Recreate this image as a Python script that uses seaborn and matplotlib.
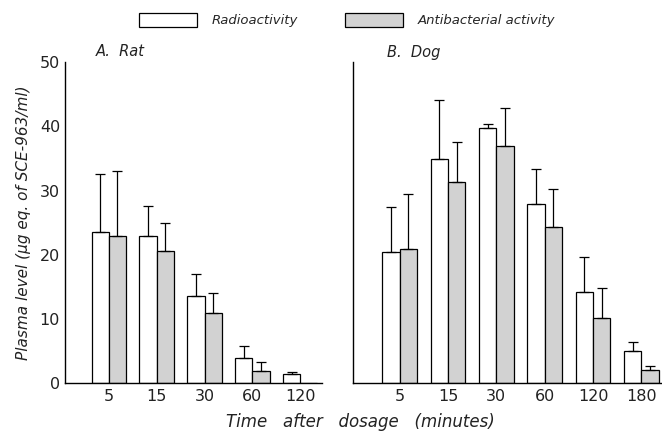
import numpy as np
import pandas as pd
import matplotlib
matplotlib.use("Agg")
import matplotlib.pyplot as plt
import seaborn as sns
from matplotlib.patches import Patch

sns.set_style("white")
plt.rcParams['font.family'] = ['DejaVu Sans']

series = ["Radioactivity", "Antibacterial activity"]

rat_times = ["5", "15", "30", "60", "120"]
rat_radio = [23.6, 23.0, 13.6, 3.9, 1.4]
rat_radio_err = [9.0, 4.6, 3.4, 1.9, 0.4]
rat_anti = [23.0, 20.6, 11.0, 1.9, 0.0]
rat_anti_err = [10.1, 4.4, 3.1, 1.4, np.nan]

dog_times = ["5", "15", "30", "60", "120", "180"]
dog_radio = [20.4, 35.0, 39.7, 27.9, 14.2, 5.0]
dog_radio_err = [7.0, 9.1, 0.7, 5.5, 5.5, 1.4]
dog_anti = [20.9, 31.4, 37.0, 24.3, 10.1, 2.1]
dog_anti_err = [8.5, 6.1, 5.9, 6.0, 4.7, 0.6]

colors = ["white", "#d2d2d2"]


def make_df(times, radio, anti):
    return pd.DataFrame({
        "time": times * 2,
        "value": radio + anti,
        "series": [series[0]] * len(times) + [series[1]] * len(times),
    })


fig = plt.figure(figsize=(6.62, 4.32), dpi=100)
axA = fig.add_axes([0.098, 0.113, 0.388, 0.743])
axB = fig.add_axes([0.533, 0.113, 0.465, 0.743])


def draw(ax, times, radio, radio_err, anti, anti_err, xlim):
    df = make_df(times, radio, anti)
    sns.barplot(data=df, x="time", y="value", hue="series", order=times,
                hue_order=series, palette=colors, edgecolor="black",
                linewidth=0.9, width=0.72, ax=ax, legend=False, errorbar=None)
    for cont, vals, errs in zip(ax.containers, [radio, anti], [radio_err, anti_err]):
        for bar, v, e in zip(cont, vals, errs):
            if e is None or np.isnan(e):
                continue
            xc = bar.get_x() + bar.get_width() / 2
            ax.errorbar([xc], [v], yerr=[[0], [e]], fmt="none", ecolor="black",
                        elinewidth=0.9, capsize=3.5, capthick=0.9)
    ax.set_ylim(0, 50)
    ax.set_xlim(*xlim)
    ax.set_xlabel("")
    ax.set_ylabel("")
    sns.despine(ax=ax, top=True, right=True)
    for s in ["left", "bottom"]:
        ax.spines[s].set_color("black")
        ax.spines[s].set_linewidth(1.0)
    ax.set_yticks([0, 10, 20, 30, 40, 50])
    ax.tick_params(axis="y", direction="in", length=4, width=0.9, colors="black",
                   labelsize=11.5)
    ax.tick_params(axis="x", length=0, labelsize=11.5, pad=4)
    for t in ax.get_xticklabels() + ax.get_yticklabels():
        t.set_color("#222222")


draw(axA, rat_times, rat_radio, rat_radio_err, rat_anti, rat_anti_err, (-0.92, 4.45))
draw(axB, dog_times, dog_radio, dog_radio_err, dog_anti, dog_anti_err, (-0.97, 5.4))
axB.tick_params(axis="y", labelleft=False)

axA.text(0.12, 1.02, "A.  Rat", transform=axA.transAxes, fontsize=10.5,
         style="italic", color="#222222")
axB.text(0.11, 1.015, "B.  Dog", transform=axB.transAxes, fontsize=10.5,
         style="italic", color="#222222")

axA.set_ylabel("Plasma level (μg eq. of SCE-963/ml)", fontsize=11, style="italic",
               color="#222222", labelpad=6)
fig.text(0.545, 0.012, "Time   after   dosage   (minutes)", ha="center",
         fontsize=12, style="italic", color="#222222")

handles = [Patch(facecolor=c, edgecolor="black", linewidth=0.9) for c in colors]
fig.legend(handles, series, loc="upper left", bbox_to_anchor=(0.2, 0.985),
           ncol=2, frameon=False, handlelength=4.4, handleheight=1.25,
           handletextpad=1.1, columnspacing=3.6, borderpad=0,
           prop={"style": "italic", "size": 9.5})

fig.savefig("out.png", dpi=100)
